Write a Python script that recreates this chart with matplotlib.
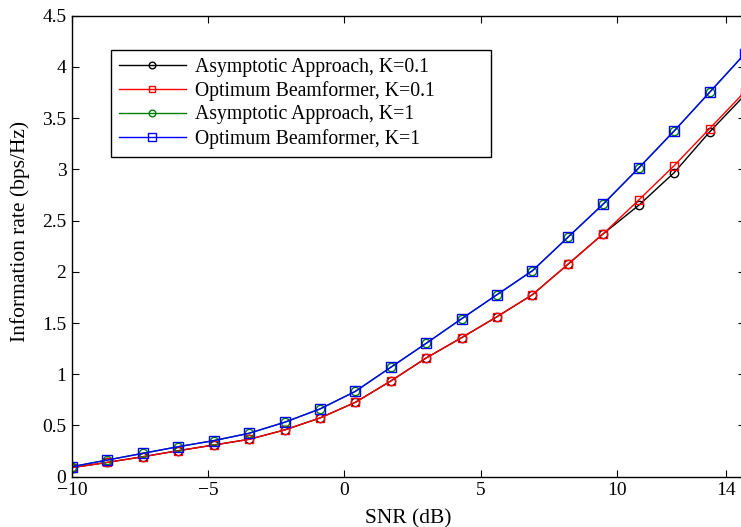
import matplotlib
matplotlib.use("Agg")
import matplotlib.pyplot as plt

snr = [-10, -8.7, -7.4, -6.1, -4.8, -3.5, -2.2, -0.9, 0.4, 1.7, 3.0, 4.3, 5.6,
       6.9, 8.2, 9.5, 10.8, 12.1, 13.4, 14.7]
asym_k01 = [0.088, 0.140, 0.195, 0.254, 0.309, 0.365, 0.456, 0.573, 0.726, 0.934,
            1.159, 1.357, 1.562, 1.777, 2.073, 2.372, 2.649, 2.968, 3.365, 3.727]
opt_k01 = [0.088, 0.140, 0.195, 0.254, 0.309, 0.365, 0.456, 0.573, 0.726, 0.934,
           1.159, 1.357, 1.562, 1.777, 2.073, 2.372, 2.701, 3.036, 3.397, 3.76]
asym_k1 = [0.098, 0.163, 0.228, 0.293, 0.352, 0.424, 0.531, 0.661, 0.833, 1.068,
           1.302, 1.542, 1.777, 2.011, 2.337, 2.662, 3.013, 3.375, 3.752, 4.13]
opt_k1 = [0.098, 0.163, 0.228, 0.293, 0.352, 0.424, 0.531, 0.661, 0.833, 1.068,
          1.302, 1.542, 1.777, 2.011, 2.337, 2.662, 3.013, 3.375, 3.752, 4.13]
labels = ["Asymptotic Approach, K=0.1", "Optimum Beamformer, K=0.1",
          "Asymptotic Approach, K=1", "Optimum Beamformer, K=1"]
xticks = [-10, -5, 0, 5, 10, 14]
yticks = [0, 0.5, 1, 1.5, 2, 2.5, 3, 3.5, 4, 4.5]

plt.rcParams['font.family'] = ['Liberation Serif', 'DejaVu Serif']
plt.rcParams['axes.unicode_minus'] = True

fig = plt.figure(figsize=(7.41, 5.27), dpi=100)
ax = fig.add_axes([72/741, (527-476.7)/527, (745-72)/741, (476.7-15.7)/527])

ax.plot(snr, asym_k01, color='k', lw=1.0, marker='o', ms=6, mfc='none', mew=1.0, label=labels[0])
ax.plot(snr, opt_k01, color='#ff0000', lw=1.0, marker='s', ms=5.5, mfc='none', mew=1.0, label=labels[1])
ax.plot(snr, asym_k1, color='#008000', lw=1.0, marker='o', ms=6, mfc='none', mew=1.0, label=labels[2])
ax.plot(snr, opt_k1, color='#0000ff', lw=1.0, marker='s', ms=6.5, mfc='none', mew=1.0, label=labels[3])

ax.set_xlim(-10, 14.7)
ax.set_ylim(0, 4.5)
ax.set_xticks(xticks)
ax.set_xticklabels([str(t).replace('-', '\u2212') for t in xticks])
ax.set_yticks(yticks)
ax.set_yticklabels(['0', '0.5', '1', '1.5', '2', '2.5', '3', '3.5', '4', '4.5'])
ax.tick_params(direction='in', top=True, right=True, length=5, width=0.8,
               labelsize=14, pad=4)
for s in ax.spines.values():
    s.set_linewidth(1.0)

ax.set_xlabel('SNR (dB)', fontsize=15.5, labelpad=7)
ax.set_ylabel('Information rate (bps/Hz)', fontsize=15.5)
ax.yaxis.set_label_coords(-0.063, (476.7 - 231) / 461)

leg = ax.legend(loc='upper left',
                bbox_to_anchor=(111/741, (527-151)/527, 380/741, 101/527),
                bbox_transform=fig.transFigure, mode='expand', fontsize=14.2,
                frameon=True, fancybox=False, edgecolor='k', framealpha=1,
                borderaxespad=0, handlelength=3.4, handletextpad=0.45,
                labelspacing=0.22, borderpad=0.4, markerscale=0.8)
leg.get_frame().set_linewidth(1.0)

fig.savefig('out.png', dpi=100)
